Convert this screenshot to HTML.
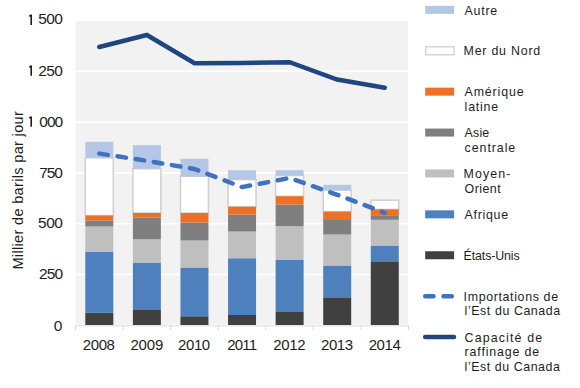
<!DOCTYPE html>
<html><head><meta charset="utf-8"><style>
html,body{margin:0;padding:0;background:#fff;width:580px;height:388px;overflow:hidden}
svg{display:block}
text{font-family:"Liberation Sans",sans-serif}
</style></head><body>
<svg width="580" height="388" viewBox="0 0 580 388">
<rect x="75.51" y="20.5" width="332.49" height="304.80" fill="#f2f2f2"/>
<line x1="75.51" x2="408.57" y1="20.50" y2="20.50" stroke="#ffffff" stroke-width="1.6"/>
<line x1="75.51" x2="408.57" y1="71.30" y2="71.30" stroke="#ffffff" stroke-width="1.6"/>
<line x1="75.51" x2="408.57" y1="122.10" y2="122.10" stroke="#ffffff" stroke-width="1.6"/>
<line x1="75.51" x2="408.57" y1="172.90" y2="172.90" stroke="#ffffff" stroke-width="1.6"/>
<line x1="75.51" x2="408.57" y1="223.70" y2="223.70" stroke="#ffffff" stroke-width="1.6"/>
<line x1="75.51" x2="408.57" y1="274.50" y2="274.50" stroke="#ffffff" stroke-width="1.6"/>
<line x1="75.51" x2="408.57" y1="325.30" y2="325.30" stroke="#ffffff" stroke-width="1.6"/>
<rect x="85.30" y="157.80" width="28" height="57.70" fill="#fff" stroke="#d0d0d0" stroke-width="1.5"/>
<rect x="132.88" y="168.80" width="28" height="44.20" fill="#fff" stroke="#d0d0d0" stroke-width="1.5"/>
<rect x="180.46" y="176.30" width="28" height="36.70" fill="#fff" stroke="#d0d0d0" stroke-width="1.5"/>
<rect x="228.04" y="179.60" width="28" height="27.15" fill="#fff" stroke="#d0d0d0" stroke-width="1.5"/>
<rect x="275.62" y="175.60" width="28" height="20.65" fill="#fff" stroke="#d0d0d0" stroke-width="1.5"/>
<rect x="323.20" y="190.20" width="28" height="21.40" fill="#fff" stroke="#d0d0d0" stroke-width="1.5"/>
<rect x="370.78" y="200.20" width="28" height="9.20" fill="#fff" stroke="#d0d0d0" stroke-width="1.5"/>
<rect x="85.30" y="312.80" width="28" height="12.20" fill="#404040"/>
<rect x="85.30" y="251.60" width="28" height="61.20" fill="#4e80bd"/>
<rect x="85.30" y="226.50" width="28" height="25.10" fill="#bfbfbf"/>
<rect x="85.30" y="220.40" width="28" height="6.10" fill="#7f7f7f"/>
<rect x="85.30" y="215.50" width="28" height="4.90" fill="#ee7027"/>
<rect x="85.30" y="141.80" width="28" height="16.00" fill="#b4c7e7"/>
<rect x="132.88" y="310.00" width="28" height="15.00" fill="#404040"/>
<rect x="132.88" y="262.50" width="28" height="47.50" fill="#4e80bd"/>
<rect x="132.88" y="239.25" width="28" height="23.25" fill="#bfbfbf"/>
<rect x="132.88" y="217.50" width="28" height="21.75" fill="#7f7f7f"/>
<rect x="132.88" y="213.00" width="28" height="4.50" fill="#ee7027"/>
<rect x="132.88" y="145.10" width="28" height="23.70" fill="#b4c7e7"/>
<rect x="180.46" y="316.25" width="28" height="8.75" fill="#404040"/>
<rect x="180.46" y="267.50" width="28" height="48.75" fill="#4e80bd"/>
<rect x="180.46" y="240.50" width="28" height="27.00" fill="#bfbfbf"/>
<rect x="180.46" y="222.50" width="28" height="18.00" fill="#7f7f7f"/>
<rect x="180.46" y="213.00" width="28" height="9.50" fill="#ee7027"/>
<rect x="180.46" y="158.75" width="28" height="17.55" fill="#b4c7e7"/>
<rect x="228.04" y="315.00" width="28" height="10.00" fill="#404040"/>
<rect x="228.04" y="258.25" width="28" height="56.75" fill="#4e80bd"/>
<rect x="228.04" y="231.50" width="28" height="26.75" fill="#bfbfbf"/>
<rect x="228.04" y="214.50" width="28" height="17.00" fill="#7f7f7f"/>
<rect x="228.04" y="206.75" width="28" height="7.75" fill="#ee7027"/>
<rect x="228.04" y="170.30" width="28" height="9.30" fill="#b4c7e7"/>
<rect x="275.62" y="312.00" width="28" height="13.00" fill="#404040"/>
<rect x="275.62" y="260.00" width="28" height="52.00" fill="#4e80bd"/>
<rect x="275.62" y="226.25" width="28" height="33.75" fill="#bfbfbf"/>
<rect x="275.62" y="204.50" width="28" height="21.75" fill="#7f7f7f"/>
<rect x="275.62" y="196.25" width="28" height="8.25" fill="#ee7027"/>
<rect x="275.62" y="170.20" width="28" height="5.40" fill="#b4c7e7"/>
<rect x="323.20" y="298.00" width="28" height="27.00" fill="#404040"/>
<rect x="323.20" y="265.50" width="28" height="32.50" fill="#4e80bd"/>
<rect x="323.20" y="234.50" width="28" height="31.00" fill="#bfbfbf"/>
<rect x="323.20" y="220.00" width="28" height="14.50" fill="#7f7f7f"/>
<rect x="323.20" y="211.60" width="28" height="8.40" fill="#ee7027"/>
<rect x="323.20" y="184.80" width="28" height="5.40" fill="#b4c7e7"/>
<rect x="370.78" y="262.00" width="28" height="63.00" fill="#404040"/>
<rect x="370.78" y="245.50" width="28" height="16.50" fill="#4e80bd"/>
<rect x="370.78" y="219.80" width="28" height="25.70" fill="#bfbfbf"/>
<rect x="370.78" y="215.90" width="28" height="3.90" fill="#7f7f7f"/>
<rect x="370.78" y="209.40" width="28" height="6.50" fill="#ee7027"/>
<line x1="75.51" x2="408.57" y1="325.8" y2="325.8" stroke="#d9d9d9" stroke-width="1"/>
<line x1="75.51" x2="75.51" y1="325.5" y2="330" stroke="#d9d9d9" stroke-width="1"/>
<line x1="123.09" x2="123.09" y1="325.5" y2="330" stroke="#d9d9d9" stroke-width="1"/>
<line x1="170.67" x2="170.67" y1="325.5" y2="330" stroke="#d9d9d9" stroke-width="1"/>
<line x1="218.25" x2="218.25" y1="325.5" y2="330" stroke="#d9d9d9" stroke-width="1"/>
<line x1="265.83" x2="265.83" y1="325.5" y2="330" stroke="#d9d9d9" stroke-width="1"/>
<line x1="313.41" x2="313.41" y1="325.5" y2="330" stroke="#d9d9d9" stroke-width="1"/>
<line x1="360.99" x2="360.99" y1="325.5" y2="330" stroke="#d9d9d9" stroke-width="1"/>
<line x1="408.57" x2="408.57" y1="325.5" y2="330" stroke="#d9d9d9" stroke-width="1"/>
<polyline points="99.30,153.6 146.88,160.8 194.46,169 242.04,187.1 289.62,178 337.20,194.8 384.78,212.8" fill="none" stroke="#3f73c0" stroke-width="4.5" stroke-dasharray="8.6 9.77" stroke-linecap="round" stroke-linejoin="round"/>
<polyline points="99.30,47 146.88,35 194.46,63.2 242.04,63.0 289.62,62.2 337.20,79.5 384.78,87.7" fill="none" stroke="#1f467f" stroke-width="4.5" stroke-linecap="round" stroke-linejoin="miter"/>
<path d="M29.2 118.12 L31.2 117.02 L31.2 126.82" fill="none" stroke="#1e1e1e" stroke-width="1.6" stroke-linejoin="round"/>
<path d="M29.2 67.15 L31.2 66.05 L31.2 75.85" fill="none" stroke="#1e1e1e" stroke-width="1.6" stroke-linejoin="round"/>
<path d="M29.2 16.18 L31.2 15.08 L31.2 24.88" fill="none" stroke="#1e1e1e" stroke-width="1.6" stroke-linejoin="round"/>
<rect x="425.2" y="5.85" width="28.9" height="8" fill="#b4c7e7"/>
<rect x="425.8" y="46.75" width="28.2" height="8" fill="#fff" stroke="#d0d0d0" stroke-width="1.3"/>
<rect x="425.2" y="87.65" width="28.9" height="8" fill="#ee7027"/>
<rect x="425.2" y="128.55" width="28.9" height="8" fill="#7f7f7f"/>
<rect x="425.2" y="169.45" width="28.9" height="8" fill="#bfbfbf"/>
<rect x="425.2" y="210.35" width="28.9" height="8" fill="#4e80bd"/>
<rect x="425.2" y="251.25" width="28.9" height="8" fill="#404040"/>
<line x1="425.2" x2="452.3" y1="296.15" y2="296.15" stroke="#3f73c0" stroke-width="4.5" stroke-dasharray="8.3 10" stroke-linecap="round"/>
<line x1="425.2" x2="454" y1="337.05" y2="337.05" stroke="#1f467f" stroke-width="4.5" stroke-linecap="round"/>
<text x="53.80" y="330.74" font-size="15.5" fill="#1e1e1e">0</text>
<text x="39.00" y="279.14" font-size="15.5" fill="#1e1e1e" textLength="24.19" lengthAdjust="spacing">250</text>
<text x="38.00" y="228.34" font-size="15.5" fill="#1e1e1e" textLength="24.89" lengthAdjust="spacing">500</text>
<text x="39.20" y="177.53" font-size="15.5" fill="#1e1e1e" textLength="23.63" lengthAdjust="spacing">750</text>
<text x="39.20" y="126.73" font-size="15.5" fill="#1e1e1e" textLength="23.98" lengthAdjust="spacing">000</text>
<text x="38.20" y="75.93" font-size="15.5" fill="#1e1e1e" textLength="24.68" lengthAdjust="spacing">250</text>
<text x="38.20" y="24.33" font-size="15.5" fill="#1e1e1e" textLength="24.68" lengthAdjust="spacing">500</text>
<text x="82.80" y="349.80" font-size="15" fill="#1e1e1e" textLength="32.11" lengthAdjust="spacing">2008</text>
<text x="130.44" y="349.80" font-size="15" fill="#1e1e1e" textLength="32.82" lengthAdjust="spacing">2009</text>
<text x="178.08" y="349.80" font-size="15" fill="#1e1e1e" textLength="32.12" lengthAdjust="spacing">2010</text>
<text x="227.32" y="349.80" font-size="15" fill="#1e1e1e" textLength="29.75" lengthAdjust="spacing">2011</text>
<text x="273.36" y="349.80" font-size="15" fill="#1e1e1e" textLength="32.12" lengthAdjust="spacing">2012</text>
<text x="321.00" y="349.80" font-size="15" fill="#1e1e1e" textLength="32.12" lengthAdjust="spacing">2013</text>
<text x="368.64" y="349.80" font-size="15" fill="#1e1e1e" textLength="32.12" lengthAdjust="spacing">2014</text>
<text transform="translate(23,269.60) rotate(-90)" font-size="14.5" fill="#1e1e1e" textLength="158.40" lengthAdjust="spacing">Millier de barils par jour</text>
<text x="464.60" y="14.50" font-size="12.4" fill="#1e1e1e" textLength="32.57" lengthAdjust="spacing">Autre</text>
<text x="463.60" y="55.45" font-size="12.4" fill="#1e1e1e" textLength="76.58" lengthAdjust="spacing">Mer du Nord</text>
<text x="464.60" y="96.40" font-size="12.4" fill="#1e1e1e" textLength="58.98" lengthAdjust="spacing">Amérique</text>
<text x="464.60" y="110.70" font-size="12.4" fill="#1e1e1e" textLength="33.62" lengthAdjust="spacing">latine</text>
<text x="464.60" y="137.35" font-size="12.4" fill="#1e1e1e" textLength="24.67" lengthAdjust="spacing">Asie</text>
<text x="464.60" y="151.65" font-size="12.4" fill="#1e1e1e" textLength="50.67" lengthAdjust="spacing">centrale</text>
<text x="463.60" y="178.30" font-size="12.4" fill="#1e1e1e" textLength="46.72" lengthAdjust="spacing">Moyen-</text>
<text x="464.60" y="192.60" font-size="12.4" fill="#1e1e1e" textLength="35.99" lengthAdjust="spacing">Orient</text>
<text x="464.60" y="219.25" font-size="12.4" fill="#1e1e1e" textLength="43.47" lengthAdjust="spacing">Afrique</text>
<text x="463.60" y="260.20" font-size="12.4" fill="#1e1e1e" textLength="56.04" lengthAdjust="spacing">États-Unis</text>
<text x="463.60" y="301.15" font-size="12.4" fill="#1e1e1e" textLength="94.44" lengthAdjust="spacing">Importations de</text>
<text x="464.60" y="315.45" font-size="12.4" fill="#1e1e1e" textLength="95.60" lengthAdjust="spacing">l’Est du Canada</text>
<text x="464.60" y="342.10" font-size="12.4" fill="#1e1e1e" textLength="77.48" lengthAdjust="spacing">Capacité de</text>
<text x="464.60" y="356.40" font-size="12.4" fill="#1e1e1e" textLength="74.68" lengthAdjust="spacing">raffinage de</text>
<text x="464.60" y="370.70" font-size="12.4" fill="#1e1e1e" textLength="95.32" lengthAdjust="spacing">l’Est du Canada</text>
</svg>
</body></html>
